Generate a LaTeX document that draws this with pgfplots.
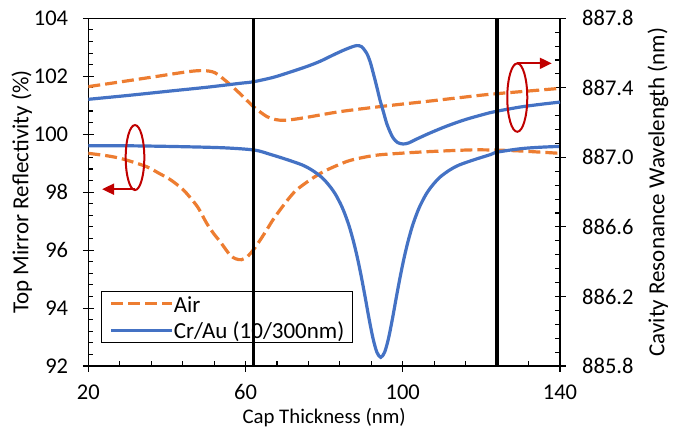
\documentclass[border=0pt]{standalone}
\usepackage{pgfplots}
\pgfplotsset{compat=1.18}
\usepackage{fontspec}
\setmainfont{Carlito}
\usetikzlibrary{calc,arrows.meta}
\definecolor{cOr}{HTML}{ED7D31}
\definecolor{cBl}{HTML}{4472C4}
\definecolor{cRd}{HTML}{C00000}
\newcommand\tlbl{\fontsize{22.5bp}{26bp}\selectfont}
\newcommand\ylbl{\fontsize{23bp}{27bp}\selectfont}
\newcommand\xlbl{\fontsize{20.8bp}{25bp}\selectfont}
\newcommand\lglbl{\fontsize{23bp}{27bp}\selectfont}
\begin{document}
\begin{tikzpicture}
\pgfplotsset{
  base/.style={
    scale only axis, width=471.7bp, height=347.7bp,
    xmin=20, xmax=140,
    tick align=center, major tick length=11bp, minor tick length=5bp,
    every tick/.append style={black, line width=1.1bp},
    axis line style={line width=1.1bp},
    /pgf/number format/assume math mode=true,
    tick label style={font=\tlbl, inner sep=0pt},
  },
  air/.style={cOr, line width=3.2bp, dash pattern=on 12bp off 5bp, smooth, tension=0.5},
  cr/.style={cBl, line width=3.2bp, smooth, tension=0.5},
}
\begin{axis}[base, name=main,
  ymin=92, ymax=104, ytick={92,94,96,98,100,102,104},
  xtick={20,60,100,140}, minor x tick num=4, minor y tick num=4,
  xtick pos=bottom, ytick pos=left,
  every minor x tick/.append style={yshift=2.5bp},
  every minor y tick/.append style={xshift=2.5bp},
  xticklabel style={yshift=-13bp},
  yticklabel style={xshift=-14.5bp},
  xlabel={Cap Thickness (nm)}, ylabel={Top Mirror Reflectivity (\%)},
  xlabel style={font=\xlbl, at={(axis description cs:0.5,-0.1496)}, anchor=center},
  ylabel style={font=\ylbl, at={(axis description cs:-0.1412,0.5)}, anchor=center},
  legend style={at={(0.027,0.2157)}, anchor=north west, draw=black, line width=1.1bp,
    font=\lglbl, inner xsep=8bp, inner ysep=1.5bp, row sep=5.2bp,
    nodes={inner sep=0pt, text height=19bp, text depth=2.5bp}},
  legend cell align=left,
  legend image code/.code={\draw[#1] (0bp,0bp) -- (61bp,0bp);},
  legend style={/tikz/every even column/.append style={column sep=4bp}},
]
\addplot[air] coordinates {
(20,99.34)(25,99.25)(28.9,99.14)(34.8,98.88)(38,98.65)(41,98.42)(44,98.1)(46,97.8)
(48,97.45)(50.1,96.93)(52,96.55)(53.5,96.30)(56,95.84)(57.5,95.7)(59,95.67)(60.5,95.78)
(62,96.01)(63.5,96.3)(65.4,96.70)(67,97.05)(68.8,97.39)(71,97.78)(73,98.08)(76.4,98.42)
(80,98.72)(85.8,99.06)(90,99.2)(94.2,99.29)(102.7,99.37)(110,99.42)(118,99.46)(124,99.45)
(130,99.42)(140,99.34)};
\addlegendentry{Air}
\addplot[cr] coordinates {
(20,99.60)(30,99.60)(40,99.58)(50,99.55)(56,99.52)(62.4,99.45)(66.4,99.30)(70.4,99.13)
(74.4,98.94)(76.9,98.76)(79.4,98.51)(81.4,98.21)(82.9,97.92)(84.4,97.53)(85.4,97.20)
(86.4,96.81)(87.4,96.33)(88.4,95.77)(89.4,95.12)(90.4,94.40)(91.4,93.65)(92.4,92.97)
(93.4,92.48)(94.4,92.30)(95.4,92.48)(96.4,92.97)(97.4,93.65)(98.4,94.40)(99.4,95.12)
(100.4,95.77)(101.4,96.33)(102.4,96.81)(103.4,97.20)(104.4,97.53)(105.9,97.92)
(107.4,98.21)(109.4,98.51)(111.9,98.76)(114.4,98.94)(118.4,99.13)(122.4,99.30)
(124,99.38)(130,99.50)(135,99.55)(140,99.58)};
\addlegendentry{Cr/Au (10/300nm)}
\end{axis}
\begin{axis}[base,
  ymin=885.8, ymax=887.8, ytick={885.8,886.2,886.6,887.0,887.4,887.8},
  minor y tick num=4,
  axis x line=none, axis y line*=right,
  every minor y tick/.append style={xshift=-2.5bp},
  yticklabel style={xshift=16.5bp, /pgf/number format/.cd, fixed, fixed zerofill, precision=1, 1000 sep={}},
  ylabel={Cavity Resonance Wavelength (nm)},
  ylabel style={font=\ylbl, at={(axis description cs:1.2078,0.5)}, anchor=center},
]
\addplot[air] coordinates {
(20,887.407)(28.4,887.435)(36.9,887.464)(45.4,887.493)(49.2,887.499)(52.2,887.487)
(55.5,887.43)(58.9,887.36)(62.1,887.29)(65.4,887.235)(67.5,887.218)(69.6,887.213)
(72,887.218)(75.5,887.23)(84,887.263)(94.2,887.292)(106.9,887.324)(115,887.345)
(122.2,887.363)(130,887.378)(140,887.397)};
\addplot[cr] coordinates {
(20,887.334)(30,887.356)(41,887.382)(50,887.403)(58.6,887.426)(62,887.435)(67,887.46)
(71,887.488)(75.5,887.522)(79,887.553)(82.3,887.589)(85,887.617)(87,887.635)(88.3,887.643)
(89.5,887.637)(90.8,887.60)(91.7,887.55)(92.5,887.484)(93.4,887.405)(94.2,887.33)
(95.1,887.26)(95.9,887.196)(96.8,887.145)(97.6,887.11)(98.7,887.085)(100.1,887.077)
(101.5,887.083)(103.5,887.105)(106.9,887.14)(111.2,887.18)(116,887.218)(122,887.256)
(124,887.266)(130,887.29)(135,887.305)(140,887.318)};
\addplot[black, line width=3.3bp] coordinates {(62,885.8)(62,887.8)};
\addplot[black, line width=3.3bp] coordinates {(124,885.8)(124,887.8)};
\draw[cRd, line width=2bp] (axis cs:31.88,886.999) ellipse [x radius=9.3bp, y radius=32.5bp];
\draw[cRd, line width=2bp, -{Triangle[length=12bp,width=11bp]}] (axis cs:31.88,886.817) -- (axis cs:23.5,886.817);
\draw[cRd, line width=2bp] (axis cs:129.13,887.344) ellipse [x radius=10bp, y radius=34.2bp];
\draw[cRd, line width=2bp, -{Triangle[length=12bp,width=11bp]}] (axis cs:129.13,887.541) -- (axis cs:137.9,887.541);
\end{axis}
\pgfresetboundingbox
\path[use as bounding box] ($(main.south west)+(-88.3bp,-63bp)$) rectangle ($(main.north east)+(124bp,18.3bp)$);
\end{tikzpicture}
\end{document}
